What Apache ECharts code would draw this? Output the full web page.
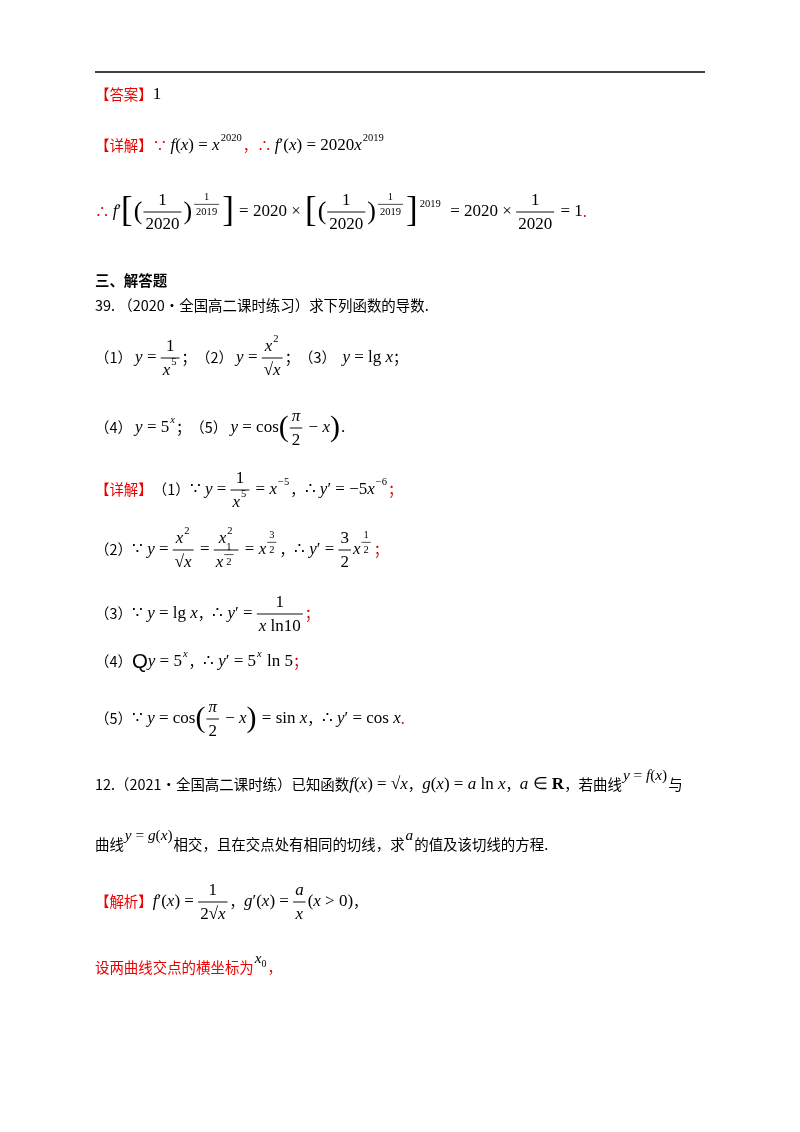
<!DOCTYPE html>
<html>
<head>
<meta charset="utf-8">
<title>导数</title>
<script src="https://cdn.jsdelivr.net/npm/echarts@6/dist/echarts.min.js"></script>
<style>html,body{margin:0;background:#fff}#c{width:800px;height:1132px}</style>
</head>
<body>
<div id="c"></div>
<script>
// token helpers: T cjk black, R cjk red, I math italic, N math upright, F fraction, S superscript, U raised inline, B big bracket
function T(s){return {k:'t',s:s,st:'cjk',c:'#000'}}
function R(s){return {k:'t',s:s,st:'cjk',c:'#e00'}}
function I(s){return {k:'t',s:s,st:'i',c:'#000'}}
function N(s){return {k:'t',s:s,st:'n',c:'#000'}}
function F(a,b){return {k:'f',a:a,b:b}}
function S(a){return {k:'s',a:a,r:0.62}}
function U(a){return {k:'s',a:a,r:0.9}}
function B(s,h){return {k:'b',s:s,h:h}}

var lines = [
  {y:95, t:[R('【答案】'), N('1')]},
  {y:146, t:[R('【详解】'), R('∵ '), I('f'), N('('), I('x'), N(') = '), I('x'), S([N('2020')]), R('，'), R('∴ '), I('f'), N('′('), I('x'), N(') = 2020'), I('x'), S([N('2019')])]},
  {y:212, t:[R('∴ '), I('f'), N('′'), B('[',2.6), B('(',1.9), F([N('1')],[N('2020')]), B(')',1.9), S([F([N('1')],[N('2019')])]), B(']',2.6), N(' = 2020 × '), B('[',2.6), B('(',1.9), F([N('1')],[N('2020')]), B(')',1.9), S([F([N('1')],[N('2019')])]), B(']',2.6), S([N('2019')]), N('  = 2020 × '), F([N('1')],[N('2020')]), N(' = 1'), R('.')]},
  {y:281, t:[{k:'t',s:'三、解答题',st:'cjkb',c:'#000'}]},
  {y:306, t:[T('39. （2020·全国高二课时练习）求下列函数的导数.')]},
  {y:358, t:[T('（1） '), I('y'), N(' = '), F([N('1')],[I('x'),S([N('5')])]), T('；（2） '), I('y'), N(' = '), F([I('x'),S([N('2')])],[N('√'),I('x')]), T('；（3）  '), I('y'), N(' = lg '), I('x'), T('；')]},
  {y:428, t:[T('（4） '), I('y'), N(' = 5'), S([I('x')]), T('；（5） '), I('y'), N(' = cos'), B('(',2.2), F([I('π')],[N('2')]), N(' − '), I('x'), B(')',2.2), N('.')]},
  {y:490, t:[R('【详解】'), T('（1）'), N('∵ '), I('y'), N(' = '), F([N('1')],[I('x'),S([N('5')])]), N(' = '), I('x'), S([N('−5')]), T('，'), N('∴ '), I('y'), N('′ = −5'), I('x'), S([N('−6')]), R('；')]},
  {y:550, t:[T('（2）'), N('∵ '), I('y'), N(' = '), F([I('x'),S([N('2')])],[N('√'),I('x')]), N(' = '), F([I('x'),S([N('2')])],[I('x'),S([F([N('1')],[N('2')])])]), N(' = '), I('x'), S([F([N('3')],[N('2')])]), T('，'), N('∴ '), I('y'), N('′ = '), F([N('3')],[N('2')]), I('x'), S([F([N('1')],[N('2')])]), R('；')]},
  {y:614, t:[T('（3）'), N('∵ '), I('y'), N(' = lg '), I('x'), T('，'), N('∴ '), I('y'), N('′ = '), F([N('1')],[I('x'),N(' ln10')]), R('；')]},
  {y:662, t:[T('（4）'), {k:'t',s:'Q',st:'sans',c:'#000'}, I('y'), N(' = 5'), S([I('x')]), T('，'), N('∴ '), I('y'), N('′ = 5'), S([I('x')]), N(' ln 5'), R('；')]},
  {y:719, t:[T('（5）'), N('∵ '), I('y'), N(' = cos'), B('(',2.2), F([I('π')],[N('2')]), N(' − '), I('x'), B(')',2.2), N(' = sin '), I('x'), T('，'), N('∴ '), I('y'), N('′ = cos '), I('x'), R('.')]},
  {y:785, t:[T('12.（2021·全国高二课时练）已知函数'), I('f'), N('('), I('x'), N(') = √'), I('x'), T('，'), I('g'), N('('), I('x'), N(') = '), I('a'), N(' ln '), I('x'), T('，'), I('a'), N(' ∈ '), {k:'t',s:'R',st:'nb',c:'#000'}, T('，若曲线'), U([I('y'),N(' = '),I('f'),N('('),I('x'),N(')')]), T('与')]},
  {y:845, t:[T('曲线'), U([I('y'),N(' = '),I('g'),N('('),I('x'),N(')')]), T('相交，且在交点处有相同的切线，求'), U([I('a')]), T('的值及该切线的方程.')]},
  {y:902, t:[R('【解析】'), I('f'), N('′('), I('x'), N(') = '), F([N('1')],[N('2√'),I('x')]), T('，'), I('g'), N('′('), I('x'), N(') = '), F([I('a')],[I('x')]), N('('), I('x'), N(' > 0)'), T('，')]},
  {y:968, t:[R('设两曲线交点的横坐标为'), U([I('x'),{k:'t',s:'0',st:'n',c:'#000',sub:1}]), R('，')]}
];

var ctx = document.createElement('canvas').getContext('2d');
function font(st,sz){
  if(st==='cjk') return (sz*0.85)+'px "Noto Sans CJK SC"';
  if(st==='cjkb') return 'bold '+(sz*0.85)+'px "Noto Sans CJK SC"';
  if(st==='i') return 'italic '+sz+'px "Liberation Serif"';
  if(st==='nb') return 'bold '+sz+'px "Liberation Serif"';
  if(st==='sans') return sz*1.2+'px "Liberation Sans"';
  return sz+'px "Liberation Serif"';
}
function layout(toks,x,y,sz,els){
  var x0=x;
  toks.forEach(function(t){
    if(t.k==='t'){
      var f=font(t.st,sz); ctx.font=f;
      var yy=t.sub?y+sz*0.35:y;
      var f3=t.sub?Math.round(sz*0.65)+'px "Liberation Serif"':f;
      els.push({type:'text',x:x,y:yy,style:{text:t.s,font:f3,fill:t.c,verticalAlign:'middle'}});
      ctx.font=f3;
      x+=ctx.measureText(t.s).width;
    } else if(t.k==='s'){
      x+=layout(t.a,x+1,y-sz*(t.r>0.8?0.55:0.45),sz*t.r,els)+2;
    } else if(t.k==='b'){
      var f2=Math.round(sz*t.h*0.8)+'px "Liberation Serif"'; ctx.font=f2;
      els.push({type:'text',x:x,y:y,style:{text:t.s,font:f2,fill:'#000',verticalAlign:'middle'}});
      x+=ctx.measureText(t.s).width+1;
    } else if(t.k==='f'){
      var tmp=[],wa=layout(t.a,0,0,sz,tmp),wb=layout(t.b,0,0,sz,tmp);
      var w=Math.max(wa,wb)+4;
      layout(t.a,x+(w-wa)/2,y-sz*0.68,sz,els);
      layout(t.b,x+(w-wb)/2,y+sz*0.72,sz,els);
      els.push({type:'line',shape:{x1:x,y1:y,x2:x+w,y2:y},style:{stroke:'#000',lineWidth:Math.max(0.7,sz/18)}});
      x+=w+2;
    }
  });
  return x-x0;
}
var els=[{type:'line',shape:{x1:95,y1:72,x2:705,y2:72},style:{stroke:'#000',lineWidth:1.3}}];
lines.forEach(function(l){ layout(l.t,95,l.y,17,els); });

var chart=echarts.init(document.getElementById('c'));
chart.setOption({backgroundColor:'#fff',graphic:{elements:els}});
</script>
</body>
</html>
